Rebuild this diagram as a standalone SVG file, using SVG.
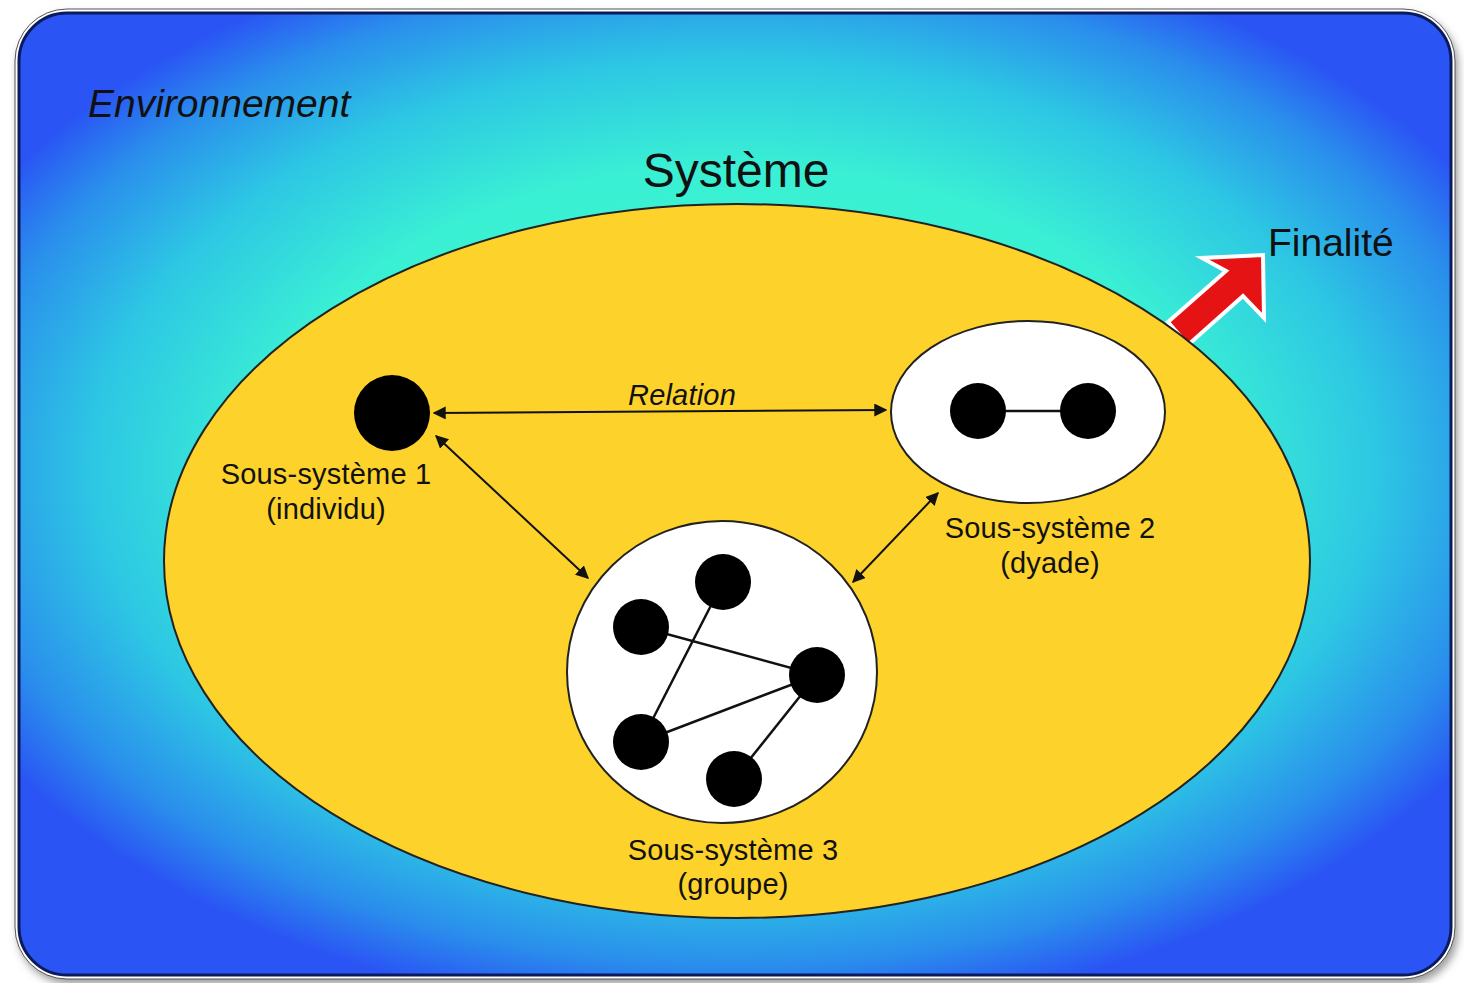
<svg xmlns="http://www.w3.org/2000/svg" width="1464" height="983" viewBox="0 0 1464 983">
<defs>
<radialGradient id="env" cx="735" cy="470" r="860" gradientUnits="userSpaceOnUse" gradientTransform="translate(735 470) scale(1 0.64) translate(-735 -470)">
<stop offset="0" stop-color="#40f6cb"/>
<stop offset="0.55" stop-color="#3af0d4"/>
<stop offset="0.75" stop-color="#2dc6e4"/>
<stop offset="0.9" stop-color="#2a8eec"/>
<stop offset="1" stop-color="#2a55f4"/>
</radialGradient>
<filter id="sh" x="-5%" y="-5%" width="110%" height="110%">
<feGaussianBlur stdDeviation="4"/>
</filter>
<marker id="ah" viewBox="0 0 10 10" refX="9" refY="5" markerWidth="13" markerHeight="13" markerUnits="userSpaceOnUse" orient="auto-start-reverse">
<path d="M0,0 L10,5 L0,10 z" fill="#111"/>
</marker>
<style>
.t{font-family:"Liberation Sans",Arial,sans-serif;fill:#111;}
.s{font-size:29px;letter-spacing:0.2px;}
.dot{fill:#000;}
.ln{stroke:#111;stroke-width:2.5;fill:none;}
.con{stroke:#111;stroke-width:2;fill:none;marker-start:url(#ah);marker-end:url(#ah);}
</style>
</defs>
<rect x="0" y="0" width="1464" height="983" fill="#ffffff"/>
<rect x="18" y="14" width="1440" height="970" rx="52" fill="#999" filter="url(#sh)"/>
<g id="environment">
<rect x="15" y="9" width="1440" height="970" rx="52" fill="#ffffff" stroke="#555" stroke-width="1"/>
<rect x="19" y="13" width="1432" height="962" rx="48" fill="url(#env)" stroke="#0a1a5a" stroke-width="3"/>
<text class="t" x="88" y="117" font-size="39" font-style="italic">Environnement</text>
</g>
<g id="finalite">
<path d="M1168,322 L1226,271 L1202,258 L1263,255 L1264,318 L1243,296 L1188,345 Z" fill="#e51313" stroke="#ffffff" stroke-width="4" stroke-linejoin="miter"/>
<text class="t" x="1268" y="256" font-size="39">Finalité</text>
</g>
<g id="systeme">
<ellipse cx="737" cy="561" rx="573" ry="357" fill="#fdd22b" stroke="#222" stroke-width="2"/>
<text class="t" x="736" y="187" font-size="48" text-anchor="middle">Système</text>
</g>
<g id="sous-systeme-1">
<circle class="dot" cx="392" cy="413" r="38"/>
<text class="t s" x="326" y="484" text-anchor="middle">Sous-système 1</text>
<text class="t s" x="326" y="519" text-anchor="middle">(individu)</text>
</g>
<g id="sous-systeme-2">
<ellipse cx="1028" cy="412" rx="137" ry="91" fill="#fff" stroke="#222" stroke-width="2"/>
<line class="ln" x1="978" y1="411" x2="1088" y2="411"/>
<circle class="dot" cx="978" cy="411" r="28"/>
<circle class="dot" cx="1088" cy="411" r="28"/>
<text class="t s" x="1050" y="538" text-anchor="middle">Sous-système 2</text>
<text class="t s" x="1050" y="573" text-anchor="middle">(dyade)</text>
</g>
<g id="sous-systeme-3">
<ellipse cx="722" cy="672" rx="155" ry="151" fill="#fff" stroke="#222" stroke-width="2"/>
<line class="ln" x1="723" y1="582" x2="641" y2="742"/>
<line class="ln" x1="641" y1="627" x2="817" y2="675"/>
<line class="ln" x1="641" y1="742" x2="817" y2="675"/>
<line class="ln" x1="817" y1="675" x2="734" y2="779"/>
<circle class="dot" cx="723" cy="582" r="28"/>
<circle class="dot" cx="641" cy="627" r="28"/>
<circle class="dot" cx="817" cy="675" r="28"/>
<circle class="dot" cx="641" cy="742" r="28"/>
<circle class="dot" cx="734" cy="779" r="28"/>
<text class="t s" x="733" y="860" text-anchor="middle">Sous-système 3</text>
<text class="t s" x="733" y="894" text-anchor="middle">(groupe)</text>
</g>
<g id="connectors">
<line class="con" x1="434" y1="413" x2="886" y2="410"/>
<text class="t s" x="682" y="405" font-style="italic" text-anchor="middle">Relation</text>
<line class="con" x1="436" y1="436" x2="588" y2="578"/>
<line class="con" x1="853" y1="582" x2="938" y2="493"/>
</g>
</svg>
